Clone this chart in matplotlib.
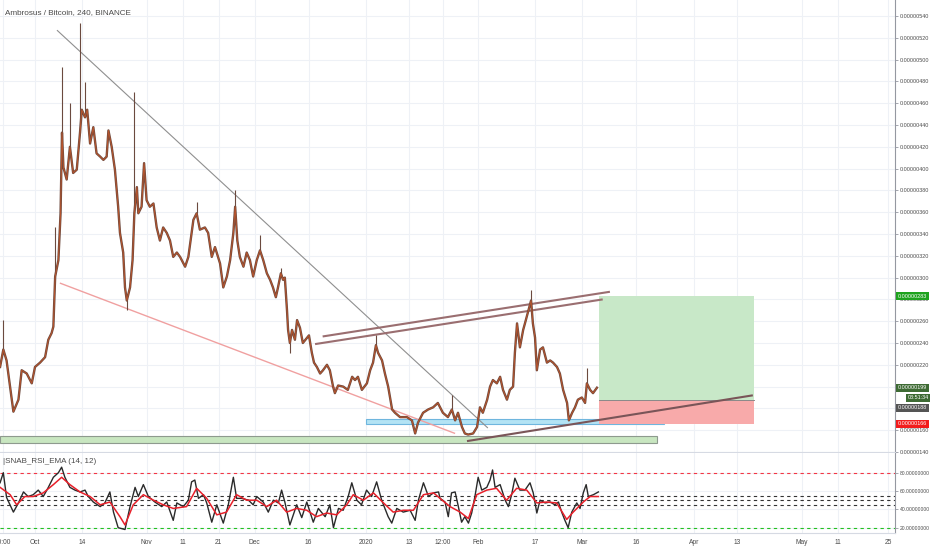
import matplotlib
matplotlib.use("Agg")
import matplotlib.pyplot as plt
from matplotlib.patches import Rectangle
import matplotlib.transforms as mtransforms

plt.rcParams['font.family'] = ['Liberation Sans', 'DejaVu Sans']

# ---------------- data (x = days since 2019-10-01, price in 1e-8 BTC) ----------------
price_days = [-9.7, -8.8, -7.9, -6.0, -4.6, -3.7, -2.3, -0.9, 0.0, 1.4, 2.8, 3.7, 4.6, 5.1, 5.6, 6.5,
              7.1, 7.5, 7.9, 8.8, 9.7, 10.6, 11.6, 12.5, 13.0, 13.9, 14.5, 15.3, 16.2, 17.1, 18.1, 19.0,
              19.9, 20.4, 21.3, 22.2, 23.1, 23.6, 24.5, 25.0, 25.5, 26.4, 27.1, 27.6, 28.3, 28.7, 29.6,
              30.3, 31.0, 31.9, 32.9, 33.8, 34.7, 35.6, 36.6, 37.5, 38.4, 39.4, 40.3, 41.7, 42.6, 44.0,
              44.9, 45.8, 47.2, 48.1, 49.1, 50.0, 51.4, 52.3, 53.3, 54.2, 55.1, 55.6, 56.2, 56.9, 57.9,
              58.8, 59.7, 60.6, 61.6, 62.5, 63.4, 64.4, 65.3, 66.1, 66.9, 67.5, 68.3, 68.9, 69.4, 70.0,
              70.3, 70.8, 71.4, 72.2, 72.8, 73.6, 74.4, 75.6, 76.1, 76.9, 77.5, 78.3, 79.2, 80.0, 81.1,
              81.9, 82.8, 83.3, 84.2, 85.6, 86.9, 88.1, 88.9, 89.7, 90.8, 92.2, 93.1, 93.9, 94.7, 95.3,
              96.4, 97.2, 98.1, 99.2, 100.0, 101.4, 103.3, 104.7, 105.6, 106.4, 107.8, 109.2, 110.6,
              111.9, 113.3, 114.7, 115.8, 116.7, 117.5, 118.6, 119.4, 120.3, 121.7, 122.8, 123.6, 124.4,
              125.6, 126.4, 127.2, 128.3, 129.2, 130.0, 131.1, 131.9, 132.8, 133.3, 133.9, 134.7, 135.6,
              136.1, 136.9, 137.8, 138.3, 138.9, 139.4, 140.3, 141.1, 142.2, 143.1, 143.9, 145.0, 145.8,
              146.7, 147.8, 148.3, 149.2, 150.0, 150.8, 151.9, 152.8, 153.3, 154.2, 155.0, 156.1]
price_vals = [218, 234, 224, 177, 188, 215, 212, 203, 218, 222, 227, 243, 249, 255, 301, 316,
              359, 433, 401, 390, 420, 396, 399, 433, 454, 447, 454, 423, 438, 414, 411, 408,
              411, 435, 420, 399, 365, 341, 323, 291, 279, 291, 316, 359, 383, 359, 365,
              405, 371, 365, 368, 346, 334, 346, 341, 334, 319, 323, 319, 310, 319, 353,
              359, 344, 346, 341, 319, 328, 313, 291, 301, 316, 341, 365, 334, 319, 310,
              323, 316, 301, 316, 325, 316, 304, 298, 291, 282, 291, 304, 298, 300, 270,
              252, 240, 252, 243, 261, 254, 240, 245, 247, 231, 222, 218, 212, 215, 220,
              215, 200, 194, 201, 200, 197, 209, 206, 209, 197, 203, 215, 222, 238, 231,
              224, 212, 200, 179, 176, 172, 172, 169, 157, 167, 176, 179, 181,
              185, 176, 172, 179, 169, 176, 163, 157, 156, 157, 163, 181, 176,
              188, 200, 206, 203, 209, 197, 188, 197, 200, 231, 258, 236, 252,
              258, 268, 279, 258, 245, 215, 234, 236, 222, 224, 222, 218, 212,
              197, 185, 169, 176, 181, 188, 190, 185, 203, 197, 194, 199]

wick_days = [-8.8, 5.6, 7.5, 9.7, 12.5, 13.9, 27.6, 44.9, 55.6, 62.5, 68.3, 94.7, 115.8, 137.8, 153.3, 25.5, 70.8]
wick_low = [234, 301, 433, 420, 433, 447, 359, 359, 365, 325, 304, 238, 179, 279, 203, 270, 231]
wick_high = [261, 346, 493, 460, 534, 479, 470, 369, 380, 339, 309, 247, 192, 289, 217, 279, 240]

rsi_days = [-9.7, -8.8, -7.9, -6.0, -4.6, -3.2, -1.9, -0.5, 0.9, 2.3, 3.7, 5.1, 6.5, 7.4, 8.3, 9.7,
            11.1, 12.5, 13.9, 14.8, 16.2, 18.1, 19.4, 20.8, 21.8, 23.1, 25.0, 26.4, 27.8, 28.7, 30.1,
            31.5, 33.3, 35.2, 36.6, 38.4, 39.4, 41.2, 42.6, 43.5, 44.4, 45.4, 46.8, 47.7, 49.1, 50.5,
            52.3, 53.7, 55.1, 56.0, 57.4, 59.3, 60.6, 61.6, 63.4, 64.8, 66.2, 67.6, 68.5, 69.4, 70.8,
            72.7, 74.1, 75.5, 77.3, 78.7, 80.6, 81.9, 82.9, 84.3, 85.6, 87.0, 88.0, 89.4, 90.7, 92.1,
            93.5, 94.9, 96.3, 98.1, 99.1, 100.5, 102.3, 104.2, 105.6, 106.5, 107.9, 109.3, 110.7, 112.1,
            112.5, 113.9, 114.8, 115.7, 116.7, 117.6, 118.5, 119.4, 120.4, 121.3, 122.2, 123.1, 124.1,
            125.5, 126.4, 127.1, 127.8, 129.2, 130.6, 131.5, 132.4, 133.3, 134.7, 136.1, 137.5, 138.4,
            139.4, 140.3, 141.7, 143.1, 144.4, 145.4, 146.3, 147.2, 148.1, 149.1, 150.5, 151.4, 152.3,
            153.1, 153.7, 155.1, 156.5]
rsi_vals = [69, 80, 53, 37, 47, 59, 54, 56, 61, 54, 64, 75, 80, 86, 75, 64,
            61, 59, 61, 54, 48, 43, 47, 59, 37, 20, 18, 43, 64, 54, 67,
            54, 48, 43, 48, 28, 47, 43, 50, 70, 72, 52, 56, 47, 26, 45,
            25, 45, 75, 52, 52, 50, 45, 54, 48, 37, 50, 47, 61, 48, 23,
            45, 31, 48, 26, 41, 32, 45, 20, 41, 39, 54, 69, 50, 45, 61,
            54, 70, 50, 32, 25, 41, 37, 39, 28, 50, 69, 54, 58, 59,
            52, 48, 32, 58, 59, 43, 26, 32, 25, 36, 54, 75, 61,
            64, 72, 83, 64, 67, 50, 43, 56, 74, 61, 61, 69, 58,
            36, 50, 47, 48, 45, 48, 37, 28, 20, 37, 47, 41, 58,
            67, 54, 56, 59]

ema_days = [-9.7, -6.9, -5.1, -2.8, -0.5, 2.3, 5.1, 7.4, 9.7, 12.5, 15.3, 18.1, 20.8, 23.6, 25.0, 27.3,
            30.1, 32.9, 35.6, 38.4, 42.1, 44.9, 47.7, 50.5, 53.2, 56.0, 58.8, 61.6, 64.4, 67.1, 69.9,
            72.7, 75.5, 78.2, 81.0, 83.8, 86.6, 88.4, 91.2, 94.0, 96.8, 99.5, 102.3, 105.1, 107.9, 110.7,
            112.5, 115.3, 118.1, 120.4, 122.7, 125.5, 128.2, 131.0, 133.8, 136.6, 139.4, 142.1, 144.9,
            147.7, 149.5, 152.3, 154.2, 156.5]
ema_vals = [64, 56, 45, 54, 54, 58, 67, 75, 67, 59, 54, 45, 48, 32, 23, 45,
            56, 50, 45, 41, 43, 63, 52, 34, 37, 56, 50, 50, 43, 50, 37,
            41, 39, 32, 36, 34, 45, 56, 50, 58, 47, 37, 39, 39, 56, 58,
            52, 43, 37, 30, 56, 61, 63, 50, 63, 61, 47, 48, 47,
            29, 37, 48, 54, 54]

rsi_levels = [80, 55, 50, 45, 20]
rsi_level_colors = ['#f23645', '#333333', '#333333', '#333333', '#22c022']

# drawings: (day0, price0, day1, price1)
desc_line = (6.1, 527, 125.8, 162)
pink_line = (6.9, 295, 116.7, 157)
chan_upper = (79.9, 246, 159.7, 287)
chan_lower = (77.8, 239, 157.7, 280)
support_line = (120.0, 150, 199.4, 192)
blue_zone = (91.9, 174.7, 165.7, 170.0)
green_zone = (-9.7, 172.8, 148.3, 154.7)
pos_start, pos_end = 156.7, 199.7
pos_target, pos_entry, pos_stop = 283, 188, 166
last_price = 199

date_ticks = [-8.8, 0, 13, 31, 41, 51, 61, 76, 92, 104, 113.3, 123, 139, 152, 167, 183, 195, 213, 223, 237]
date_labels = ['20:00', 'Oct', '14', 'Nov', '11', '21', 'Dec', '16', '2020', '13', '12:00', 'Feb', '17',
               'Mar', '16', 'Apr', '13', 'May', '11', '25']
price_ticks = list(range(140, 541, 20))
rsi_ticks = [20, 40, 60, 80]

# ---------------- figure ----------------
W, H = 932, 550
fig = plt.figure(figsize=(W / 100, H / 100), dpi=100)
fig.patch.set_facecolor('white')
RX = 895
ax = fig.add_axes([0, (H - 452) / H, RX / W, 452 / H])
ax2 = fig.add_axes([0, (H - 533) / H, RX / W, (533 - 453) / H])

xlim = ((0 - 35) / 3.6, (RX - 35) / 3.6)
grid_c = '#eef1f6'
axis_c = '#9598a1'
lab_c = '#4a4a4a'

for a in (ax, ax2):
    a.set_xlim(*xlim)
    a.set_facecolor('white')
    for s in ('top', 'left'):
        a.spines[s].set_visible(False)
    a.spines['right'].set_color(axis_c)
    a.spines['right'].set_linewidth(0.8)
    a.spines['bottom'].set_color('#d6dae3')
    a.spines['bottom'].set_linewidth(0.8)
    a.yaxis.tick_right()
    a.set_xticks(date_ticks)
    a.grid(True, color=grid_c, lw=0.8, zorder=0)
    a.set_axisbelow(True)
    a.tick_params(axis='y', length=2.5, width=0.6, color=axis_c, labelsize=3.9, labelcolor=lab_c, pad=1.0)

ax.set_ylim(140, 554.68)
ax.set_yticks(price_ticks)
ax.set_yticklabels([f"0.{v:08d}" for v in price_ticks])
ax.tick_params(axis='x', length=0, labelbottom=False)

ax2.set_ylim(14.2, 101.5)
ax2.set_yticks(rsi_ticks)
ax2.set_yticklabels([f"{v:.8f}" for v in rsi_ticks])
ax2.tick_params(axis='y', labelsize=3.6)
ax2.set_xticklabels(date_labels)
ax2.tick_params(axis='x', length=0, labelsize=4.8, labelcolor=lab_c, pad=4)

# ---- zones and drawings ----
ax.add_patch(Rectangle((green_zone[0], green_zone[2]), green_zone[1] - green_zone[0],
                       green_zone[3] - green_zone[2], fc='#c8e6c0', ec='#8e9a8e', lw=0.8, zorder=2))
ax.add_patch(Rectangle((blue_zone[0], blue_zone[2]), blue_zone[1] - blue_zone[0],
                       blue_zone[3] - blue_zone[2], fc='#b3e3f4', ec='#6fb6de', lw=0.8, zorder=2))
ax.add_patch(Rectangle((pos_start, pos_entry), pos_end - pos_start, pos_target - pos_entry,
                       fc='#c8e8c8', ec='none', zorder=2))
ax.add_patch(Rectangle((pos_start, pos_stop), pos_end - pos_start, pos_entry - pos_stop,
                       fc='#f8aaaa', ec='none', zorder=2))
ax.plot([pos_start, pos_end], [pos_entry, pos_entry], color='#8a8a8a', lw=0.7, zorder=2.5)

for (x0, y0, x1, y1), col, lw in [(desc_line, '#8f8f8f', 0.8), (pink_line, '#f0a0a0', 1.0),
                                  (chan_upper, '#9a6e70', 1.5), (chan_lower, '#9a6e70', 1.5),
                                  (support_line, '#7a5558', 1.5)]:
    ax.plot([x0, x1], [y0, y1], color=col, lw=lw, zorder=3, solid_capstyle='butt')

# ---- price ----
ax.vlines(wick_days, wick_low, wick_high, color='#6b4a3f', lw=0.8, zorder=4)
ax.plot(price_days, price_vals, color='#6e4a3e', lw=1.7, zorder=4)
ax.plot(price_days, price_vals, color='#b8542c', lw=0.7, zorder=4.5)

# ---- RSI ----
for lvl, c in zip(rsi_levels, rsi_level_colors):
    ax2.axhline(lvl, color=c, lw=0.8, ls=(0, (3, 3)), zorder=2)
ax2.plot(rsi_days, rsi_vals, color='#2a2a2a', lw=1.0, zorder=3)
ax2.plot(ema_days, ema_vals, color='#e8202a', lw=1.1, zorder=4)

# ---- texts ----
fig.text(5 / W, 1 - 13 / H, 'Ambrosus / Bitcoin, 240, BINANCE', fontsize=5.9, color=lab_c, va='center', ha='left')
ax2.text(3 / RX, 0.89, '|SNAB_RSI_EMA (14, 12)', transform=ax2.transAxes,
         fontsize=5.8, color=lab_c, va='center', ha='left', zorder=6)

tr = mtransforms.blended_transform_factory(ax.transAxes, ax.transData)
labels = [(pos_target, f"0.{pos_target:08d}", '#1ea21e', 1.003),
          (last_price, f"0.{last_price:08d}", '#3e6b34', 1.003),
          (189.8, '03:51:34', '#3e6b34', 1.014),
          (180.6, f"0.{pos_entry:08d}", '#555555', 1.003),
          (pos_stop, f"0.{pos_stop:08d}", '#f21b1b', 1.003)]
for yv, txt, c, xa in labels:
    ax.text(xa, yv, txt, transform=tr, fontsize=3.9, color='white', va='center', ha='left',
            bbox=dict(boxstyle='square,pad=0.3', fc=c, ec='none'), clip_on=False, zorder=10)

fig.savefig('out.png', dpi=100, facecolor='white')
